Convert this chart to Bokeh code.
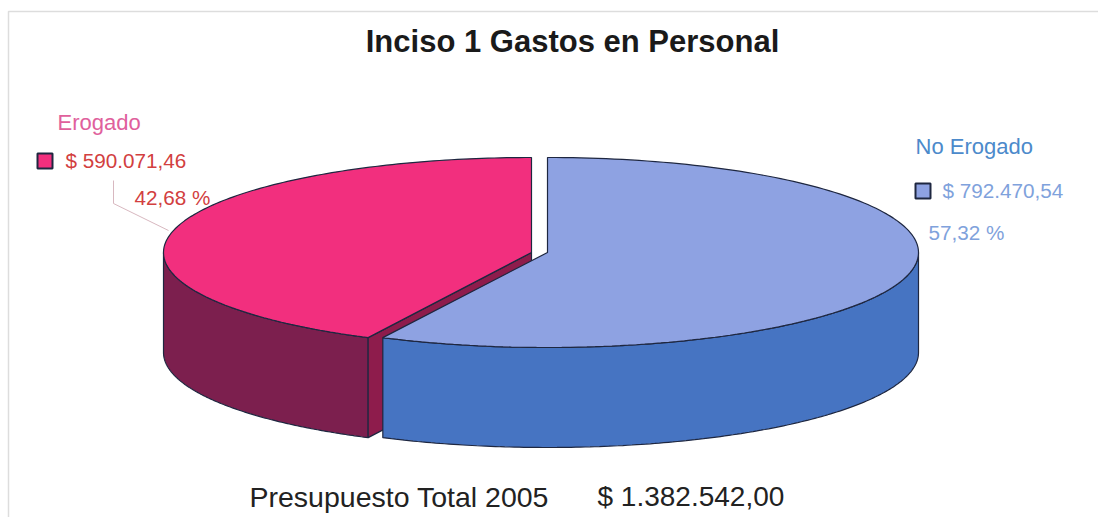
import numpy as np
from bokeh.plotting import figure
from bokeh.models import Range1d
from bokeh.embed import file_html
from bokeh.resources import INLINE
from bokeh.core.properties import value

# ---- data ----
categories = ["No Erogado", "Erogado"]
amounts = [792470.54, 590071.46]
amount_labels = ["$ 792.470,54", "$ 590.071,46"]
percent_labels = ["57,32 %", "42,68 %"]
title_text = "Inciso 1 Gastos en Personal"
total_caption = "Presupuesto Total 2005"
total_label = "$ 1.382.542,00"

# ---- colours ----
PINK_TOP, PINK_SIDE, PINK_CUT = "#F22F7E", "#7C1F4E", "#8E1C4C"
BLUE_TOP, BLUE_SIDE = "#8EA2E2", "#4674C2"
EDGE = "#1E2740"

# ---- pie geometry (reference pixels) ----
BY = 95
DEPTH = 100
BLUE_C = (547, 252)
PINK_C = (531, 252)
BLUE_AX = 371
PINK_AX = 368

total = sum(amounts)
split = 360 * amounts[0] / total   # clockwise from 12 o'clock


def rim(c, ax, a0, a1, n=160):
    t = np.radians(np.linspace(a0, a1, n))
    return c[0] + ax * np.sin(t), c[1] - BY * np.cos(t)


p = figure(width=1098, height=517, x_range=Range1d(0, 1098), y_range=Range1d(517, 0),
           output_backend="svg", toolbar_location=None, min_border=0,
           outline_line_color=None, background_fill_color="white")
p.axis.visible = False
p.grid.visible = False


def poly(xs, ys, fill, edge=EDGE, w=1.2):
    p.patch(list(xs), list(ys), fill_color=fill, line_color=edge, line_width=w)


# scan frame
p.line([8, 8, 1098], [517, 11, 11], line_color="#DDDDDD", line_width=1.5)

# pink slice: outer wall, cut face, top
cx, cy = PINK_C
x, y = rim(PINK_C, PINK_AX, split, 270)
poly(np.r_[x, x[::-1]], np.r_[y, (y + DEPTH)[::-1]], PINK_SIDE)
xe, ye = rim(PINK_C, PINK_AX, split, split, n=1)
poly([cx, xe[0], xe[0], cx], [cy, ye[0], ye[0] + DEPTH, cy + DEPTH], PINK_CUT)
x, y = rim(PINK_C, PINK_AX, split, 360)
poly(np.r_[cx, x], np.r_[cy, y], PINK_TOP)

# blue slice: outer wall, top
cx, cy = BLUE_C
x, y = rim(BLUE_C, BLUE_AX, 90, split)
poly(np.r_[x, x[::-1]], np.r_[y, (y + DEPTH)[::-1]], BLUE_SIDE)
x, y = rim(BLUE_C, BLUE_AX, 0, split)
poly(np.r_[cx, x], np.r_[cy, y], BLUE_TOP)

# leader line
p.line([113, 113, 168], [180, 203, 230], line_color="#D8B8C0", line_width=1)

# legend keys
p.quad(left=[37], right=[52], top=[153], bottom=[168], fill_color=PINK_TOP, line_color=EDGE, line_width=2)
p.quad(left=[915], right=[930], top=[183], bottom=[198], fill_color=BLUE_TOP, line_color=EDGE, line_width=2)


def label(xp, yp, s, size, color, style="normal", align="left"):
    p.text([xp], [yp], text=[s], text_font=value("Liberation Sans"), text_font_size=f"{size}px",
           text_color=color, text_baseline="middle", text_align=align, text_font_style=style)


label(572, 41, title_text, 31, "#1A1A1A", "bold", "center")
label(57, 122, categories[1], 22, "#E0609C")
label(65, 160, amount_labels[1], 20.7, "#D2403F")
label(134, 196.5, percent_labels[1], 20.7, "#D2403F")
label(915, 146, categories[0], 22, "#4C8ACB")
label(942, 190, amount_labels[0], 20.7, "#7FA2DC")
label(928, 232, percent_labels[0], 20.7, "#7FA2DC")
label(249, 496, total_caption, 28.5, "#222222")
label(597, 496, total_label, 28, "#222222")

open("out.html", "w").write(file_html(p, INLINE))
